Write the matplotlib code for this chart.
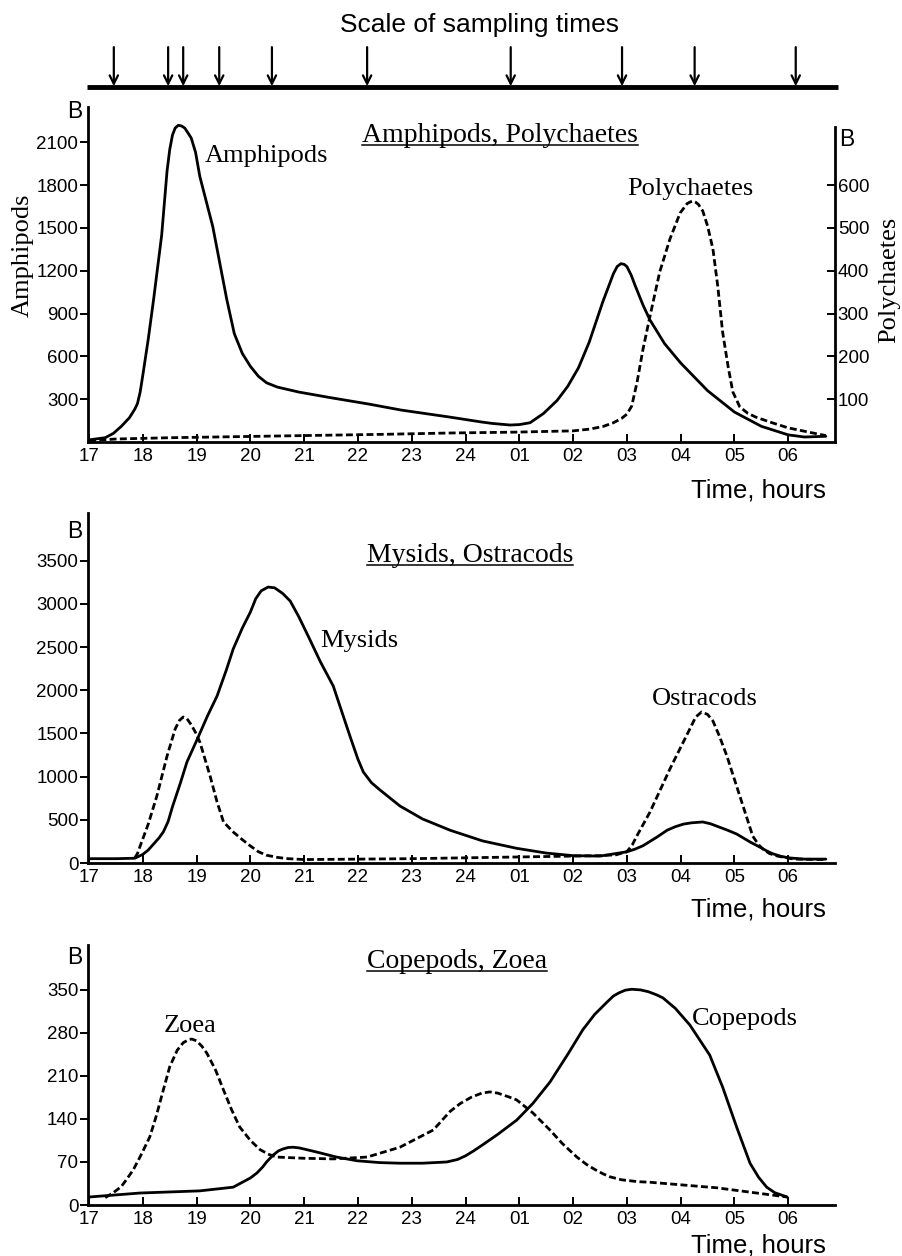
import matplotlib
matplotlib.use("Agg")
import matplotlib.pyplot as plt
from matplotlib.lines import Line2D

W, H = 902, 1256
SANS = "Liberation Sans"
SERIF = "Liberation Serif"
plt.rcParams["font.family"] = SANS

# ── data (hours after 17:00 counted on, 24 = midnight, 30 = 06:00) ──────────
tick_hours = list(range(17, 31))
tick_labels = ["17", "18", "19", "20", "21", "22", "23", "24",
               "01", "02", "03", "04", "05", "06"]

sampling_times = [17.46, 18.47, 18.75, 19.42, 20.40, 22.17, 24.84, 26.91, 28.26, 30.14]

amph_t = [17.0, 17.3, 17.45, 17.6, 17.75, 17.85, 17.9, 17.95, 18.0, 18.1, 18.2, 18.35,
          18.45, 18.5, 18.55, 18.6, 18.66, 18.72, 18.78, 18.85, 18.9, 18.98, 19.06,
          19.3, 19.56, 19.7, 19.85, 20.0, 20.15, 20.3, 20.5, 20.9, 21.5, 22.2, 22.8,
          23.7, 24.3, 24.5, 24.83, 25.0, 25.2, 25.45, 25.7, 25.9, 26.1, 26.3, 26.55,
          26.75, 26.82, 26.89, 26.95, 27.0, 27.08, 27.15, 27.3, 27.43, 27.7, 28.0,
          28.5, 29.0, 29.5, 30.0, 30.3, 30.7]
amph_v = [15, 30, 60, 110, 170, 230, 270, 350, 470, 720, 1000, 1450,
          1900, 2050, 2150, 2200, 2220, 2215, 2200, 2160, 2130, 2030, 1860,
          1510, 1000, 760, 620, 530, 460, 415, 385, 350, 310, 266, 224,
          175, 140, 130, 119, 122, 135, 200, 290, 390, 520, 700, 980,
          1180, 1230, 1250, 1245, 1230, 1170, 1100, 960, 855, 690, 554,
          360, 210, 110, 50, 35, 40]

poly_t = [17.0, 17.5, 18.5, 19.5, 20.5, 21.5, 22.5, 23.7, 24.9, 26.0, 26.3, 26.55,
          26.75, 26.9, 27.0, 27.09, 27.19, 27.3, 27.43, 27.61, 27.8, 27.99, 28.12,
          28.18, 28.23, 28.28, 28.33, 28.41, 28.5, 28.6, 28.69, 28.78, 28.88, 28.97,
          29.1, 29.25, 29.4, 29.7, 30.0, 30.5, 30.7]
poly_v = [3, 7, 10, 12, 14, 16, 18, 21, 23, 26, 30, 36,
          45, 55, 65, 84, 140, 217, 294, 397, 474, 535, 557,
          561, 563, 560, 555, 540, 505, 451, 364, 257, 178, 117,
          82, 67, 58, 45, 33, 20, 15]

mys_t = [17.0, 17.5, 17.85, 18.0, 18.1, 18.2, 18.3, 18.38, 18.47, 18.55, 18.7, 18.82,
         19.03, 19.2, 19.38, 19.55, 19.68, 19.85, 20.0, 20.1, 20.2, 20.33, 20.45,
         20.6, 20.74, 20.9, 21.1, 21.3, 21.54, 21.7, 21.85, 22.0, 22.1, 22.25, 22.4,
         22.78, 23.2, 23.71, 24.32, 24.95, 25.5, 26.0, 26.5, 27.0, 27.15, 27.3,
         27.56, 27.75, 27.9, 28.05, 28.2, 28.41, 28.55, 28.7, 28.87, 29.04, 29.3,
         29.47, 29.6, 29.7, 29.85, 30.0, 30.3, 30.7]
mys_v = [50, 50, 55, 100, 150, 220, 290, 359, 480, 650, 930, 1169,
         1458, 1700, 1933, 2230, 2477, 2720, 2905, 3060, 3150, 3194, 3185,
         3120, 3032, 2850, 2593, 2330, 2049, 1750, 1470, 1200, 1053, 930, 850,
         660, 510, 380, 255, 170, 115, 85, 80, 130, 160, 200,
         300, 380, 420, 450, 465, 475, 455, 420, 380, 336, 240,
         185, 140, 110, 80, 60, 45, 45]

ostr_t = [17.85, 17.9, 17.95, 18.1, 18.26, 18.45, 18.6, 18.68, 18.75, 18.82, 18.9,
          18.98, 19.06, 19.25, 19.38, 19.5, 19.68, 19.85, 20.0, 20.15, 20.3, 20.5,
          20.7, 21.0, 22.0, 23.0, 24.0, 25.0, 26.0, 26.5, 26.8, 27.0, 27.1, 27.2,
          27.43, 27.8, 28.17, 28.28, 28.39, 28.5, 28.6, 28.72, 28.86, 29.1, 29.34,
          29.45, 29.53, 29.65, 29.8, 30.1, 30.7]
ostr_v = [60, 110, 197, 450, 775, 1238, 1550, 1650, 1690, 1670, 1600,
          1510, 1400, 1007, 706, 475, 359, 270, 197, 130, 90, 65,
          50, 40, 45, 50, 60, 70, 80, 85, 95, 130, 210, 330,
          590, 1088, 1551, 1690, 1748, 1720, 1644, 1470, 1238, 775, 312,
          210, 162, 110, 80, 45, 40]

cope_t = [17.0, 17.95, 19.06, 19.68, 20.0, 20.12, 20.23, 20.3, 20.42, 20.52, 20.6,
          20.7, 20.79, 20.9, 21.0, 21.24, 21.6, 21.98, 22.4, 22.78, 23.2, 23.65,
          23.85, 24.0, 24.15, 24.32, 24.6, 24.95, 25.25, 25.57, 25.9, 26.18, 26.4,
          26.63, 26.75, 26.85, 26.97, 27.09, 27.25, 27.4, 27.55, 27.67, 27.9, 28.17,
          28.54, 28.78, 29.04, 29.29, 29.45, 29.6, 29.75, 29.98]
cope_v = [13, 19.5, 23, 29, 44, 52, 62, 70, 81, 88, 91,
          93.5, 94, 93, 91, 86, 78, 72, 69, 68, 68, 70,
          74, 80, 88, 98, 115, 138, 165, 200, 245, 285, 310,
          330, 340, 345, 349.5, 351, 350, 347, 342, 337, 320, 293,
          244, 192, 127, 68, 45, 29, 20, 13]

zoea_t = [17.3, 17.45, 17.6, 17.7, 17.82, 17.97, 18.13, 18.25, 18.38, 18.5, 18.64,
          18.75, 18.85, 18.91, 19.0, 19.1, 19.19, 19.35, 19.5, 19.65, 19.8, 20.0,
          20.18, 20.35, 20.49, 21.0, 21.54, 22.17, 22.78, 23.4, 23.71, 23.9, 24.1,
          24.3, 24.45, 24.6, 24.8, 24.95, 25.25, 25.57, 25.8, 26.07, 26.25, 26.4,
          26.55, 26.68, 26.9, 27.2, 27.43, 28.67, 29.98]
zoea_v = [12, 20, 30, 42, 57, 82, 111, 145, 187, 225, 252,
          264, 269, 270, 267, 258, 247, 220, 187, 155, 127, 105,
          90, 82, 78, 76, 75, 78, 94, 122, 152, 165, 175,
          182, 184, 182, 176, 171, 150, 122, 100, 78, 66, 58,
          51, 46, 41, 38, 37, 28, 13]


# ── helpers ────────────────────────────────────────────────────────────────
def fx(x):
    return x / W


def fy(y):
    return 1 - y / H


def axes_px(left, top, right, bottom):
    return fig.add_axes([fx(left), fy(bottom), (right - left) / W, (bottom - top) / H])


fig = plt.figure(figsize=(W / 100, H / 100), dpi=100)

XLIM = (16.98, 30.87)
SOLID = dict(color="black", lw=2.0, solid_joinstyle="round", solid_capstyle="round")
DASHED = dict(color="black", lw=2.0, linestyle=(0, (2.5, 1.2)))
TICK_FS = 13.5


def style_axes(ax, ymax, yticks):
    ax.set_xlim(*XLIM)
    ax.set_ylim(0, ymax)
    for s in ("top", "right"):
        ax.spines[s].set_visible(False)
    for s in ("left", "bottom"):
        ax.spines[s].set_linewidth(2.0)
    ax.set_xticks(tick_hours)
    ax.set_xticklabels(tick_labels)
    ax.set_yticks(yticks)
    ax.tick_params(axis="x", direction="in", length=6, width=1.4, labelsize=TICK_FS, pad=4)
    ax.tick_params(axis="y", direction="out", length=6, width=1.4, labelsize=TICK_FS, pad=1)


titles = []


def title(x, y, s):
    t = fig.text(fx(x), fy(y), s, family=SERIF, fontsize=20, ha="center", va="baseline")
    titles.append(t)


def label(x, y, s):
    fig.text(fx(x), fy(y), s, family=SERIF, fontsize=19, ha="center", va="baseline")


def b_mark(x, y):
    fig.text(fx(x), fy(y), "B", fontsize=16.5, ha="center", va="center")


def time_label(y):
    fig.text(fx(826), fy(y), "Time, hours", fontsize=18.5, ha="right", va="baseline")


# ── sampling-time scale ──────────────────────────────────────────────────────
ax0 = axes_px(88, 40, 835, 95)
ax0.set_xlim(*XLIM)
ax0.set_ylim(0, 1)
ax0.axis("off")
ax0.plot([XLIM[0] - 0.02, XLIM[1] + 0.05], [0.145, 0.145], color="black", lw=3.5,
         clip_on=False, solid_capstyle="butt")
for t in sampling_times:
    ax0.annotate("", xy=(t, 0.16), xytext=(t, 0.87),
                 arrowprops=dict(arrowstyle="->,head_length=0.6,head_width=0.3",
                                 color="black", lw=1.6, shrinkA=0, shrinkB=0))
fig.text(fx(480), fy(32), "Scale of sampling times", fontsize=19, ha="center", va="baseline")

# ── panel 1: amphipods / polychaetes ─────────────────────────────────────────
ax1 = axes_px(88, 107, 835, 442)
style_axes(ax1, 2348, [300, 600, 900, 1200, 1500, 1800, 2100])
ax1.plot(amph_t, amph_v, **SOLID)

ax1r = ax1.twinx()
ax1r.set_ylim(0, 2348 / 3)
for s in ("top", "left", "bottom"):
    ax1r.spines[s].set_visible(False)
ax1r.spines["right"].set_linewidth(2.0)
ax1r.spines["right"].set_bounds(0, 736)
ax1r.set_yticks([100, 200, 300, 400, 500, 600])
ax1r.tick_params(axis="y", direction="in", length=6, width=1.4, labelsize=TICK_FS, pad=2)
ax1r.plot(poly_t, poly_v, **DASHED)

title(500, 142, "Amphipods, Polychaetes")
label(266, 162, "Amphipods")
label(690, 195, "Polychaetes")
fig.text(fx(23), fy(255), "Amphipods", family=SERIF, fontsize=19, rotation=90,
         ha="center", va="center")
fig.text(fx(889), fy(280), "Polychaetes", family=SERIF, fontsize=19, rotation=90,
         ha="center", va="center")
b_mark(75, 112)
b_mark(847, 140)
time_label(497)

# ── panel 2: mysids / ostracods ──────────────────────────────────────────────
ax2 = axes_px(88, 513, 835, 863)
style_axes(ax2, 4051, [0, 500, 1000, 1500, 2000, 2500, 3000, 3500])
ax2.plot(mys_t, mys_v, **SOLID)
ax2.plot(ostr_t, ostr_v, **DASHED)
title(470, 562, "Mysids, Ostracods")
label(359, 647, "Mysids")
label(705, 705, "Ostracods")
b_mark(75, 532)
time_label(917)

# ── panel 3: copepods / zoea ─────────────────────────────────────────────────
ax3 = axes_px(88, 945, 835, 1205)
style_axes(ax3, 423, [0, 70, 140, 210, 280, 350])
ax3.plot(cope_t, cope_v, **SOLID)
ax3.plot(zoea_t, zoea_v, **DASHED)
title(457, 968, "Copepods, Zoea")
label(190, 1032, "Zoea")
label(745, 1025, "Copepods")
b_mark(75, 958)
time_label(1253)

# underline the panel titles
fig.canvas.draw()
for t in titles:
    bb = t.get_window_extent()
    ybase = t.get_position()[1] * H - 2.5
    fig.add_artist(Line2D([bb.x0 / W, bb.x1 / W], [ybase / H, ybase / H],
                          transform=fig.transFigure, color="black", lw=1.1))

fig.savefig("out.png", dpi=100)
